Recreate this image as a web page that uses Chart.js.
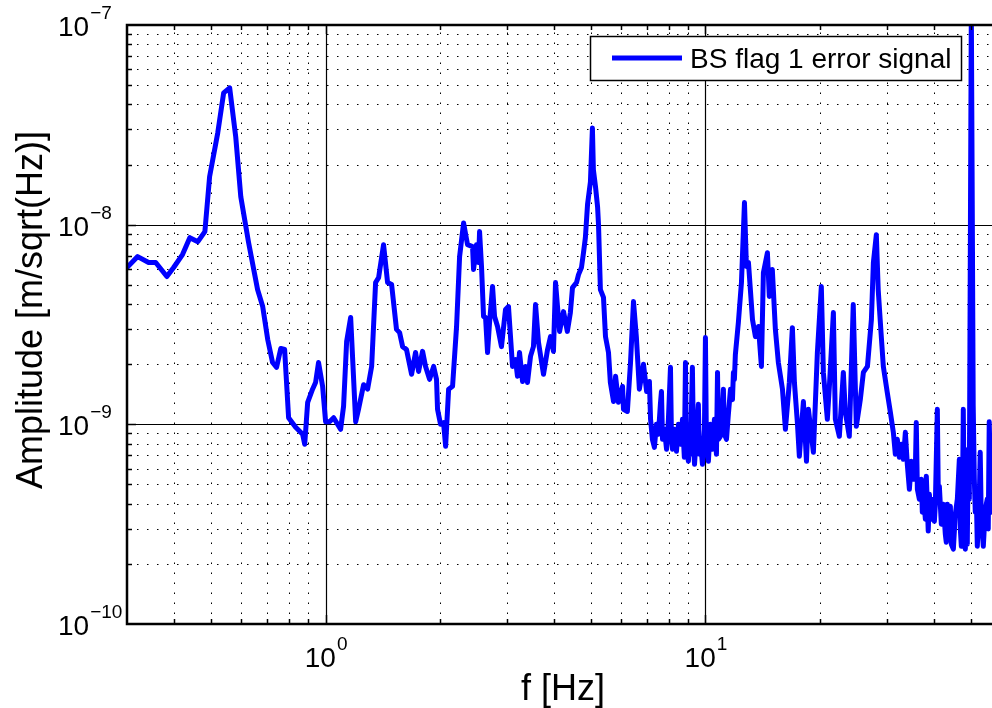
<!DOCTYPE html>
<html>
<head>
<meta charset="utf-8">
<script src="https://cdn.jsdelivr.net/npm/chart.js@4"></script>
<style>
body { margin: 0; overflow: hidden; background: #fff; }
</style>
</head>
<body>
<canvas id="myChart" width="1010" height="708"></canvas>
<script>
"use strict";
// frequency axis [Hz]
const Freqs = [
    0.300, 0.320, 0.342, 0.357, 0.382, 0.398, 0.420, 0.439, 0.461, 0.481,
    0.495, 0.520, 0.539, 0.559, 0.580, 0.598, 0.627, 0.662, 0.683, 0.704,
    0.725, 0.743, 0.762, 0.780, 0.799, 0.834, 0.870, 0.881, 0.897, 0.924,
    0.941, 0.958, 0.982, 1.000, 1.024, 1.050, 1.095, 1.115, 1.136, 1.164,
    1.200, 1.221, 1.259, 1.290, 1.322, 1.354, 1.379, 1.421, 1.456, 1.492,
    1.537, 1.566, 1.595, 1.633, 1.684, 1.725, 1.757, 1.800, 1.833, 1.878,
    1.925, 1.959, 1.971, 2.007, 2.044, 2.070, 2.108, 2.159, 2.212, 2.253,
    2.308, 2.364, 2.437, 2.452, 2.496, 2.527, 2.543, 2.574, 2.605, 2.637,
    2.669, 2.702, 2.751, 2.785, 2.836, 2.904, 2.976, 3.030, 3.105, 3.162,
    3.200, 3.240, 3.300, 3.360, 3.400, 3.463, 3.525, 3.570, 3.635, 3.747,
    3.840, 3.910, 3.980, 4.030, 4.130, 4.230, 4.330, 4.410, 4.467, 4.577,
    4.633, 4.717, 4.775, 4.830, 4.893, 4.980, 5.040, 5.070, 5.135, 5.200,
    5.230, 5.290, 5.390, 5.456, 5.556, 5.620, 5.730, 5.800, 5.900, 6.050,
    6.085, 6.230, 6.350, 6.465, 6.580, 6.700, 6.870, 7.000, 7.120,
    // dense band 7 - 12 Hz
    7.17, 7.25, 7.34, 7.43, 7.52, 7.61, 7.66, 7.71, 7.80, 7.90,
    7.99, 8.09, 8.14, 8.19, 8.29, 8.39, 8.49, 8.60, 8.70, 8.80,
    8.86, 8.91, 9.02, 9.08, 9.13, 9.24, 9.30, 9.36, 9.47, 9.58,
    9.64, 9.70, 9.82, 9.94, 10.00, 10.06, 10.18, 10.31, 10.43, 10.56,
    10.69, 10.76, 10.82, 10.95, 11.08, 11.15, 11.22, 11.36, 11.49, 11.64,
    11.78, 11.85, 11.92,
    // 12 - 31 Hz
    11.99, 12.21, 12.44, 12.67, 12.82, 12.98, 13.30, 13.54, 13.79, 14.04,
    14.21, 14.56, 14.73, 15.00, 15.28, 15.56, 15.95, 16.24, 16.63, 16.94,
    17.15, 17.46, 17.67, 18.11, 18.45, 18.67, 19.24, 19.71, 20.19, 20.44,
    20.94, 21.20, 21.72, 21.98, 22.52, 23.07, 23.35, 23.92, 24.50, 24.96,
    25.57, 26.05, 26.70, 27.35, 27.68, 28.18, 28.50, 29.04, 29.40, 30.10,
    30.68,
    // dense band 31 - 59 Hz
    31.24, 31.62, 32.00, 32.39, 32.80, 33.20, 33.60, 34.00, 34.43, 34.85,
    35.27, 35.70, 35.90, 36.14, 36.58, 37.03, 37.24, 37.48, 37.93, 38.15,
    38.39, 38.60, 38.86, 39.33, 39.81, 40.06, 40.30, 40.79, 41.04, 41.29,
    41.79, 42.30, 42.81, 43.06, 43.34, 43.86, 44.14, 44.40, 44.95, 45.49,
    46.05, 46.61, 46.89, 47.18, 47.45, 47.74, 48.04, 48.33, 48.60, 48.91,
    49.20, 49.51, 50.12, 50.70, 51.04, 51.34, 51.66, 51.97, 52.60, 52.90,
    53.24, 53.90, 54.56, 55.20, 55.54, 55.87, 56.23, 56.56, 57.25, 57.95,
    58.67
];
// amplitude [m/sqrt(Hz)]
const Amps = [
    6.10e-9, 6.92e-9, 6.46e-9, 6.46e-9, 5.50e-9, 6.10e-9, 7.08e-9, 8.61e-9, 8.22e-9, 9.23e-9,
    1.74e-8, 2.88e-8, 4.57e-8, 4.84e-8, 2.75e-8, 1.38e-8, 8.13e-9, 4.73e-9, 3.89e-9, 2.66e-9,
    2.04e-9, 1.93e-9, 2.40e-9, 2.37e-9, 1.08e-9, 9.66e-10, 8.91e-10, 7.94e-10, 1.29e-9, 1.50e-9,
    1.62e-9, 2.04e-9, 1.55e-9, 1.03e-9, 1.03e-9, 1.08e-9, 9.44e-10, 1.23e-9, 2.60e-9, 3.43e-9,
    1.03e-9, 1.19e-9, 1.58e-9, 1.50e-9, 1.95e-9, 5.13e-9, 5.43e-9, 7.94e-9, 5.13e-9, 5.01e-9,
    2.99e-9, 2.88e-9, 2.45e-9, 2.37e-9, 1.78e-9, 2.29e-9, 1.84e-9, 2.32e-9, 1.95e-9, 1.68e-9,
    1.95e-9, 1.68e-9, 1.19e-9, 1.00e-9, 1.02e-9, 7.76e-10, 1.50e-9, 1.55e-9, 3.09e-9, 6.92e-9,
    1.02e-8, 7.94e-9, 7.76e-9, 5.96e-9, 7.94e-9, 6.46e-9, 9.23e-9, 6.10e-9, 3.47e-9, 3.43e-9,
    2.29e-9, 3.24e-9, 4.90e-9, 3.47e-9, 3.09e-9, 2.45e-9, 3.76e-9, 3.89e-9, 1.95e-9, 2.11e-9,
    1.74e-9, 2.29e-9, 1.64e-9, 1.95e-9, 1.62e-9, 2.19e-9, 2.45e-9, 3.98e-9, 2.57e-9, 1.78e-9,
    2.37e-9, 2.75e-9, 2.32e-9, 5.13e-9, 2.92e-9, 3.67e-9, 2.92e-9, 3.63e-9, 4.84e-9, 5.13e-9,
    5.62e-9, 6.10e-9, 7.24e-9, 8.61e-9, 1.26e-8, 1.64e-8, 3.05e-8, 1.88e-8, 1.55e-8, 1.23e-8,
    1.00e-8, 4.73e-9, 4.32e-9, 2.75e-9, 2.29e-9, 1.62e-9, 1.30e-9, 1.74e-9, 1.29e-9, 1.55e-9,
    1.19e-9, 1.16e-9, 2.04e-9, 4.12e-9, 2.72e-9, 1.50e-9, 2.00e-9, 1.46e-9, 1.64e-9,
    // dense band 7 - 12 Hz
    1.06e-9, 8.41e-10, 7.67e-10, 1.00e-9, 8.91e-10, 1.26e-9, 1.46e-9, 8.41e-10, 9.44e-10, 7.50e-10,
    1.06e-9, 1.93e-9, 8.41e-10, 7.50e-10, 9.44e-10, 7.33e-10, 1.00e-9, 7.94e-10, 1.06e-9, 6.84e-10,
    2.04e-9, 7.50e-10, 6.53e-10, 9.44e-10, 7.08e-10, 1.93e-9, 7.94e-10, 6.31e-10, 8.91e-10, 1.26e-9,
    7.08e-10, 8.41e-10, 6.31e-10, 9.44e-10, 2.72e-9, 7.94e-10, 6.53e-10, 1.00e-9, 7.50e-10, 1.06e-9,
    7.08e-10, 1.82e-9, 8.41e-10, 8.71e-10, 1.19e-9, 1.50e-9, 8.91e-10, 8.41e-10, 1.12e-9, 1.50e-9,
    1.33e-9, 1.82e-9, 1.68e-9,
    // 12 - 31 Hz
    2.24e-9, 3.24e-9, 5.13e-9, 1.29e-8, 6.17e-9, 6.46e-9, 3.35e-9, 2.75e-9, 3.09e-9, 1.95e-9,
    5.75e-9, 7.24e-9, 4.37e-9, 5.96e-9, 2.99e-9, 2.04e-9, 1.50e-9, 9.44e-10, 1.62e-9, 3.05e-9,
    1.62e-9, 1.02e-9, 6.92e-10, 1.30e-9, 6.53e-10, 1.19e-9, 7.24e-10, 2.29e-9, 4.90e-9, 1.82e-9,
    1.06e-9, 1.55e-9, 3.63e-9, 1.06e-9, 8.71e-10, 1.82e-9, 1.15e-9, 8.71e-10, 3.98e-9, 9.77e-10,
    1.33e-9, 1.82e-9, 1.95e-9, 3.35e-9, 6.46e-9, 8.91e-9, 4.73e-9, 2.75e-9, 1.95e-9, 1.45e-9,
    1.15e-9,
    // dense band 31 - 59 Hz
    9.12e-10, 7.08e-10, 8.41e-10, 6.84e-10, 7.94e-10, 6.68e-10, 9.12e-10, 6.31e-10, 4.73e-10, 6.53e-10,
    5.31e-10, 5.96e-10, 1.02e-9, 4.73e-10, 4.22e-10, 5.31e-10, 3.63e-10, 4.47e-10, 3.35e-10, 5.50e-10,
    3.98e-10, 2.92e-10, 4.47e-10, 3.35e-10, 4.22e-10, 3.27e-10, 3.98e-10, 1.19e-9, 4.22e-10, 4.90e-10,
    3.16e-10, 3.98e-10, 2.82e-10, 2.57e-10, 3.98e-10, 2.99e-10, 3.89e-10, 2.51e-10, 2.37e-10, 3.55e-10,
    4.22e-10, 6.68e-10, 2.99e-10, 2.45e-10, 3.35e-10, 1.19e-9, 2.99e-10, 2.37e-10, 3.35e-10, 2.51e-10,
    7.50e-10, 4.22e-10, 1.20e-7, 1.23e-9, 5.31e-10, 3.63e-10, 4.47e-10, 2.45e-10, 4.22e-10, 7.24e-10,
    3.35e-10, 2.45e-10, 3.76e-10, 4.22e-10, 2.99e-10, 1.03e-9, 5.96e-10, 3.63e-10, 5.31e-10, 1.06e-9,
    4.22e-10
];
const XTickExps = [0, 1];             // labelled decades on f axis
const YTickExps = [-10, -9, -8, -7];  // labelled decades on amplitude axis
const SeriesName = "BS flag 1 error signal";
const XTitle = "f [Hz]";
const YTitle = "Amplitude [m/sqrt(Hz)]";

const FontFam = '"Liberation Sans", Arial, Helvetica, sans-serif';
const Blue = '#0000ff';

if (Freqs.length !== Amps.length) {
    throw new Error('Freqs/Amps length mismatch: ' + Freqs.length + ' vs ' + Amps.length);
}

function minorValues(scale) {
    let vals = [];
    let d = Math.pow(10, Math.floor(Math.log10(scale.min)));
    while (d < scale.max) {
        for (let k = 1; k <= 9; k++) {
            let v = k * d;
            if (v > scale.min * 1.0001 && v < scale.max * 0.9999) vals.push({ v: v, major: k === 1 });
        }
        d *= 10;
    }
    return vals;
}

function drawPower(ctx, exp, x, y, centered) {
    let base = '10';
    let sup = exp < 0 ? '\u2212' + (-exp) : String(exp);
    ctx.font = '28px ' + FontFam;
    let wb = ctx.measureText(base).width;
    ctx.font = '19px ' + FontFam;
    let ws = ctx.measureText(sup).width;
    let left = centered ? x - (wb + ws) / 2 : x;
    ctx.textAlign = 'left';
    ctx.textBaseline = 'alphabetic';
    ctx.font = '28px ' + FontFam;
    ctx.fillText(base, left, y);
    ctx.font = '19px ' + FontFam;
    ctx.fillText(sup, left + wb + 1, y - 17);
}

const MatlabAxes = {
    id: 'matlabAxes',
    beforeDatasetsDraw(chart) {
        const ctx = chart.ctx, a = chart.chartArea;
        const xs = chart.scales.x, ys = chart.scales.y;
        ctx.save();
        ctx.strokeStyle = '#000';
        // dotted minor grid
        ctx.lineWidth = 1;
        ctx.setLineDash([1.5, 8.5]);
        minorValues(xs).forEach(function (t) {
            if (t.major) return;
            let px = Math.round(xs.getPixelForValue(t.v)) + 0.5;
            ctx.beginPath(); ctx.moveTo(px, a.bottom); ctx.lineTo(px, a.top); ctx.stroke();
        });
        minorValues(ys).forEach(function (t) {
            if (t.major) return;
            let py = Math.round(ys.getPixelForValue(t.v)) + 0.5;
            ctx.beginPath(); ctx.moveTo(a.left, py); ctx.lineTo(a.right, py); ctx.stroke();
        });
        // solid major grid
        ctx.setLineDash([]);
        ctx.lineWidth = 1.2;
        minorValues(xs).forEach(function (t) {
            if (!t.major) return;
            let px = Math.round(xs.getPixelForValue(t.v)) + 0.5;
            ctx.beginPath(); ctx.moveTo(px, a.bottom); ctx.lineTo(px, a.top); ctx.stroke();
        });
        minorValues(ys).forEach(function (t) {
            if (!t.major) return;
            let py = Math.round(ys.getPixelForValue(t.v)) + 0.5;
            ctx.beginPath(); ctx.moveTo(a.left, py); ctx.lineTo(a.right, py); ctx.stroke();
        });
        ctx.restore();
    },
    afterDraw(chart) {
        const ctx = chart.ctx, a = chart.chartArea;
        const xs = chart.scales.x, ys = chart.scales.y;
        ctx.save();
        // inward ticks
        ctx.strokeStyle = '#000';
        ctx.lineWidth = 1.5;
        minorValues(xs).forEach(function (t) {
            let px = Math.round(xs.getPixelForValue(t.v)) + 0.5;
            let len = t.major ? 9 : 5;
            ctx.beginPath(); ctx.moveTo(px, a.bottom); ctx.lineTo(px, a.bottom - len); ctx.stroke();
            ctx.beginPath(); ctx.moveTo(px, a.top); ctx.lineTo(px, a.top + len); ctx.stroke();
        });
        minorValues(ys).forEach(function (t) {
            let py = Math.round(ys.getPixelForValue(t.v)) + 0.5;
            let len = t.major ? 9 : 5;
            ctx.beginPath(); ctx.moveTo(a.left, py); ctx.lineTo(a.left + len, py); ctx.stroke();
        });
        // box
        ctx.lineWidth = 2.5;
        ctx.strokeRect(a.left, a.top, a.right - a.left, a.bottom - a.top);

        // tick labels
        ctx.fillStyle = '#000';
        XTickExps.forEach(function (e) {
            drawPower(ctx, e, xs.getPixelForValue(Math.pow(10, e)), a.bottom + 43, true);
        });
        YTickExps.forEach(function (e) {
            drawPower(ctx, e, 58, ys.getPixelForValue(Math.pow(10, e)) + 11, false);
        });

        // axis titles
        ctx.font = '36px ' + FontFam;
        ctx.textAlign = 'center';
        ctx.textBaseline = 'alphabetic';
        ctx.fillText(XTitle, 563, 700);
        ctx.save();
        ctx.translate(42, 310);
        ctx.rotate(-Math.PI / 2);
        ctx.fillText(YTitle, 0, 0);
        ctx.restore();

        // legend box
        ctx.fillStyle = '#fff';
        ctx.fillRect(590, 36, 371, 44);
        ctx.strokeStyle = '#000';
        ctx.lineWidth = 1.5;
        ctx.strokeRect(590.5, 36.5, 371, 44);
        ctx.strokeStyle = Blue;
        ctx.lineWidth = 5;
        ctx.beginPath(); ctx.moveTo(612, 58); ctx.lineTo(682, 58); ctx.stroke();
        ctx.fillStyle = '#000';
        ctx.font = '28px ' + FontFam;
        ctx.textAlign = 'left';
        ctx.fillText(SeriesName, 690, 68);
        ctx.restore();
    }
};

DrawSpectrum();

function DrawSpectrum() {
    const points = [];
    for (let i = 0; i < Freqs.length; i++) {
        points.push({ x: Freqs[i], y: Amps[i] });
    }
    const data = {
        datasets: [{
            label: SeriesName,
            data: points,
            borderColor: Blue,
            backgroundColor: Blue,
            borderWidth: 5,
            pointRadius: 0,
            tension: 0,
            fill: false,
            borderJoinStyle: 'round',
            borderCapStyle: 'round'
        }]
    };
    const config = {
        type: 'line',
        data: data,
        options: {
            responsive: false,
            animation: false,
            layout: { padding: { left: 0, top: 25, right: 9, bottom: 0 } },
            scales: {
                x: {
                    type: 'logarithmic', min: 0.3, max: 60,
                    grid: { display: false }, border: { display: false },
                    ticks: { display: false },
                    afterFit: function (s) { s.height = 84; }
                },
                y: {
                    type: 'logarithmic', min: 1e-10, max: 1e-7,
                    grid: { display: false }, border: { display: false },
                    ticks: { display: false },
                    afterFit: function (s) { s.width = 127; }
                }
            },
            plugins: { legend: { display: false }, tooltip: { enabled: false } }
        },
        plugins: [MatlabAxes]
    };
    const myChart = new Chart(document.getElementById('myChart'), config);
}
</script>
</body>
</html>
